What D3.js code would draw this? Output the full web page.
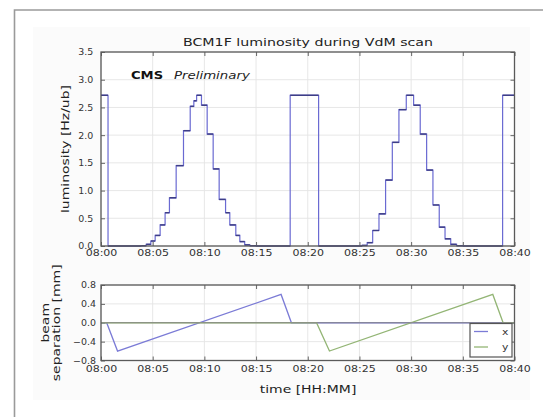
<!DOCTYPE html>
<html><head><meta charset="utf-8">
<script src="https://cdn.jsdelivr.net/npm/d3@7"></script>
<style>
body{margin:0;background:#fff}
text{font-family:"DejaVu Sans",sans-serif}
</style>
</head><body>
<svg id="c" width="543" height="417"></svg>
<script>
// ---- data (minutes after 08:00) ----
const xTickMinutes = [0,5,10,15,20,25,30,35,40];
const xTickLabels = ["08:00","08:05","08:10","08:15","08:20","08:25","08:30","08:35","08:40"];
const lumTicks = [0,0.5,1.0,1.5,2.0,2.5,3.0,3.5];
const sepTicks = [-0.8,-0.4,0,0.4,0.8];

const lumTime  = [0,0.68,3.9,4.37,4.82,5.24,5.72,6.2,6.62,7.27,7.98,8.63,8.98,9.25,9.72,10.27,10.85,11.43,12.05,12.46,13.04,13.43,13.9,14.4,15.0,
                  18.3,21.05,
                  25.25,25.75,26.28,26.89,27.53,28.18,28.82,29.53,30.24,30.88,31.5,32.11,32.72,33.28,33.83,34.4,35.0,
                  38.85,40];
const lumValue = [2.72,0,0.005,0.03,0.09,0.19,0.38,0.6,0.87,1.45,2.08,2.52,2.62,2.72,2.54,2.02,1.39,0.84,0.6,0.38,0.19,0.08,0.02,0.005,0,
                  2.72,0,
                  0.01,0.06,0.28,0.58,1.19,1.87,2.46,2.72,2.54,2.02,1.37,0.74,0.34,0.13,0.03,0.005,0,
                  2.72,2.72];

const sepXTime  = [0,0.55,1.6,17.42,18.42,40];
const sepXValue = [0,0,-0.6,0.6,0,0];
const sepYTime  = [0,20.85,22.1,37.9,38.9,40];
const sepYValue = [0,0,-0.6,0.6,0,0];

const legendLabels = ["x","y"];

// ---- layout ----
const svg = d3.select("#c");
const P1 = {l:101, r:514.5, t:52, b:246};
const P2 = {l:101, r:514.5, t:285, b:360.5};
const SX = 1.27;

svg.append("rect").attr("x",33).attr("y",27).attr("width",497).attr("height",373).attr("fill","#fbfbfb");
svg.append("path").attr("d","M14.5,417V10H543").attr("fill","none").attr("stroke","#9a9a9a").attr("stroke-width",1.6);

const x = d3.scaleLinear().domain([0,40]).range([P1.l,P1.r]);
const yL = d3.scaleLinear().domain([0,3.5]).range([P1.b,P1.t]);
const yS = d3.scaleLinear().domain([-0.8,0.8]).range([P2.b,P2.t]);

function panel(P, y, yTicks, yPad, xPad){
  const g = svg.append("g");
  g.append("rect").attr("x",P.l).attr("y",P.t).attr("width",P.r-P.l).attr("height",P.b-P.t).attr("fill","#fff");
  // grid
  g.selectAll(".gx").data(xTickMinutes).join("line")
    .attr("x1",d=>x(d)).attr("x2",d=>x(d)).attr("y1",P.t).attr("y2",P.b)
    .attr("stroke","#e4e4e4").attr("stroke-width",0.9);
  g.selectAll(".gy").data(yTicks).join("line")
    .attr("x1",P.l).attr("x2",P.r).attr("y1",d=>y(d)).attr("y2",d=>y(d))
    .attr("stroke","#e4e4e4").attr("stroke-width",0.9);
  // axes
  const ax = g.append("g").attr("transform",`translate(0,${P.b})`)
    .call(d3.axisBottom(x).tickValues(xTickMinutes).tickFormat((d,i)=>xTickLabels[i]).tickSize(-4).tickPadding(xPad));
  const ay = g.append("g").attr("transform",`translate(${P.l},0)`)
    .call(d3.axisLeft(y).tickValues(yTicks).tickFormat(d3.format(".1f")).tickSize(-4).tickPadding(yPad));
  const at = g.append("g").attr("transform",`translate(0,${P.t})`)
    .call(d3.axisTop(x).tickValues(xTickMinutes).tickFormat("").tickSize(-4));
  const ar = g.append("g").attr("transform",`translate(${P.r},0)`)
    .call(d3.axisRight(y).tickValues(yTicks).tickFormat("").tickSize(-4));
  [ax,ay,at,ar].forEach(a=>{a.select(".domain").remove(); a.selectAll("line").attr("stroke","#666");});
  ax.selectAll("text").attr("font-size",8.8).attr("fill","#333").attr("transform",`scale(1.25,1)`);
  ay.selectAll("text").attr("font-size",9).attr("fill","#333").attr("transform",`scale(1.05,1)`);
  return g;
}

const g1 = panel(P1, yL, lumTicks, 7.3, 4);
// luminosity
const lumPts = lumTime.map((t,i)=>[t,lumValue[i]]);
const stepLine = d3.line().x(d=>x(d[0])).y(d=>yL(d[1])).curve(d3.curveStepAfter);
g1.append("path").datum(lumPts).attr("d",stepLine).attr("fill","none").attr("stroke","#6a6ad2").attr("stroke-width",1.2);
g1.selectAll(".h").data(lumPts.slice(0,-1)).join("line")
  .attr("x1",(d)=>x(d[0])).attr("x2",(d,i)=>x(lumPts[i+1][0]))
  .attr("y1",d=>yL(d[1])).attr("y2",d=>yL(d[1]))
  .attr("stroke","#3e3e86").attr("stroke-width",1.5);
g1.append("rect").attr("x",P1.l).attr("y",P1.t).attr("width",P1.r-P1.l).attr("height",P1.b-P1.t)
  .attr("fill","none").attr("stroke","#5a5a5a").attr("stroke-width",1.3);

const g2 = panel(P2, yS, sepTicks, 4.8, 5.2);
const lin = d3.line().x(d=>x(d[0])).y(d=>yS(d[1]));
const colX = "#7b7bd6", colY = "#93b575";
g2.append("path").datum(sepXTime.map((t,i)=>[t,sepXValue[i]])).attr("d",lin).attr("fill","none").attr("stroke",colX).attr("stroke-width",1.3);
g2.append("path").datum(sepYTime.map((t,i)=>[t,sepYValue[i]])).attr("d",lin).attr("fill","none").attr("stroke",colY).attr("stroke-width",1.3);
g2.append("line").attr("x1",P2.l).attr("x2",P2.r).attr("y1",yS(0)).attr("y2",yS(0)).attr("stroke","#8a8a8a").attr("stroke-width",1.2);
g2.append("rect").attr("x",P2.l).attr("y",P2.t).attr("width",P2.r-P2.l).attr("height",P2.b-P2.t)
  .attr("fill","none").attr("stroke","#5a5a5a").attr("stroke-width",1.3);

// legend
const lg = svg.append("g");
lg.append("rect").attr("x",470).attr("y",323.5).attr("width",42).attr("height",33.5)
  .attr("fill","#fff").attr("stroke","#555").attr("stroke-width",1.2);
[colX,colY].forEach((c,i)=>{
  const yy = 331.5 + i*15.5;
  lg.append("line").attr("x1",474).attr("x2",488).attr("y1",yy).attr("y2",yy).attr("stroke",c).attr("stroke-width",1.3);
  lg.append("text").attr("transform",`translate(502,${yy+3}) scale(1.2,1)`).attr("font-size",9).attr("fill","#333").text(legendLabels[i]);
});

// texts
function txt(str, tx, ty, opts){
  const t = svg.append("text").attr("transform",`translate(${tx},${ty})${opts.rot?" rotate(-90)":""} scale(${opts.sx||SX},1)`)
    .attr("font-size",opts.fs||11).attr("fill",opts.fill||"#222").attr("text-anchor",opts.anchor||"middle")
    .text(str);
  if(opts.dy) t.attr("dy",opts.dy);
  if(opts.bold) t.attr("font-weight","bold");
  if(opts.italic) t.attr("font-style","italic");
  return t;
}
txt("BCM1F luminosity during VdM scan", 308, 45.5, {fs:11, sx:1.29});
txt("CMS", 131, 79, {fs:10.5, sx:1.25, bold:true, anchor:"start", fill:"#111"});
txt("Preliminary", 174, 79, {fs:10.5, sx:1.27, italic:true, anchor:"start"});
txt("luminosity [Hz/ub]", 65, 149, {fs:11, rot:true, dy:"0.35em"});
txt("beam", 45, 322.8, {fs:11, rot:true, dy:"0.35em"});
txt("separation [mm]", 56.5, 322.8, {fs:11, rot:true, dy:"0.35em"});
txt("time [HH:MM]", 308, 393, {fs:11});
</script>
</body></html>
